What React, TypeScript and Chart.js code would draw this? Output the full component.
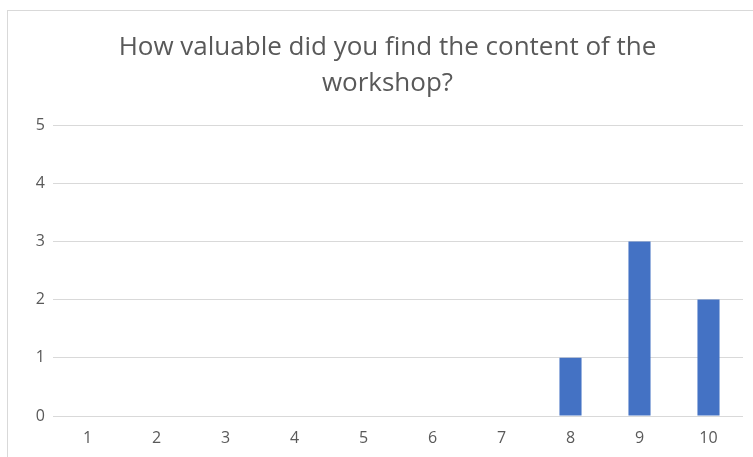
import React, { useEffect, useRef } from "react";
import { Chart, registerables } from "chart.js";

Chart.register(...registerables);

const titleLines = ["How valuable did you find the content of the", "workshop?"];
const categories = ["1", "2", "3", "4", "5", "6", "7", "8", "9", "10"];
const responses = [0, 0, 0, 0, 0, 0, 0, 1, 3, 2];
const yMin = 0;
const yMax = 5;
const yStep = 1;

export default function App() {
  const ref = useRef<HTMLCanvasElement | null>(null);

  useEffect(() => {
    if (!ref.current) return;
    const chart = new Chart(ref.current, {
      type: "bar",
      data: {
        labels: categories,
        datasets: [
          {
            data: responses,
            backgroundColor: "#4472C4",
            borderWidth: 0,
            barPercentage: 0.32,
            categoryPercentage: 1,
          },
        ],
      },
      options: {
        animation: false,
        responsive: false,
        maintainAspectRatio: false,
        layout: { padding: { left: 24, right: 10, top: 0, bottom: 0 } },
        plugins: {
          legend: { display: false },
          tooltip: { enabled: false },
          title: {
            display: true,
            text: titleLines,
            color: "#595959",
            font: { family: "Open Sans", size: 26, weight: "normal", lineHeight: 1.385 },
            padding: { top: 19, bottom: 23 },
          },
        },
        scales: {
          x: {
            grid: { display: false, drawTicks: false },
            border: { display: false },
            ticks: {
              color: "#595959",
              font: { family: "Open Sans", size: 16 },
              padding: 13,
              autoSkip: false,
              maxRotation: 0,
            },
            afterFit: (s: any) => {
              s.height = 41;
            },
          },
          y: {
            min: yMin,
            max: yMax,
            grid: { color: "#d9d9d9", lineWidth: 1, drawTicks: false },
            border: { display: false },
            ticks: {
              stepSize: yStep,
              color: "#595959",
              font: { family: "Open Sans", size: 16 },
              padding: 8,
            },
            afterFit: (s: any) => {
              s.width = 21;
            },
          },
        },
      },
    });
    return () => chart.destroy();
  }, []);

  return (
    <div
      style={{
        position: "fixed",
        left: 0,
        top: 0,
        width: 753,
        height: 457,
        overflow: "hidden",
        background: "#fff",
      }}
    >
      <div
        style={{
          position: "absolute",
          left: 7,
          top: 10,
          width: 780,
          height: 480,
          border: "1px solid #d9d9d9",
          boxSizing: "border-box",
        }}
      >
        <canvas ref={ref} width={745} height={446} style={{ display: "block" }} />
      </div>
    </div>
  );
}
